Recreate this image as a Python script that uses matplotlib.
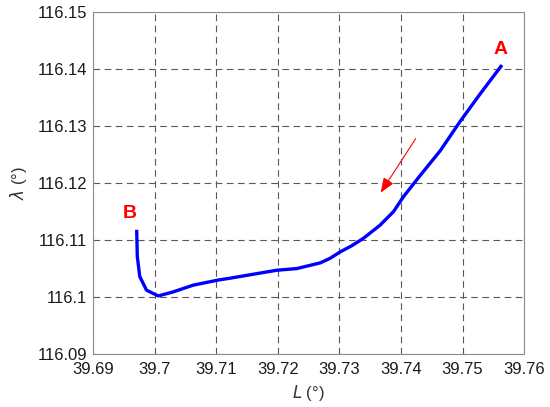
import matplotlib.pyplot as plt

# Trajectory (L in degrees, lambda in degrees)
L = [39.6971, 39.6972, 39.6976, 39.6987, 39.7006, 39.7030, 39.7063, 39.7104,
     39.7122, 39.7160, 39.7198, 39.7231, 39.7269, 39.7285, 39.7301, 39.7320,
     39.7339, 39.7366, 39.7388, 39.7404, 39.7431, 39.7464, 39.7496, 39.7529,
     39.7564]
lam = [116.1118, 116.1071, 116.1036, 116.1012, 116.1002, 116.1009, 116.1021, 116.1030,
       116.1033, 116.1040, 116.1047, 116.1050, 116.1060, 116.1068, 116.1079, 116.1090,
       116.1103, 116.1126, 116.1150, 116.1176, 116.1213, 116.1257, 116.1308, 116.1357,
       116.1407]

x_ticks = [39.69, 39.70, 39.71, 39.72, 39.73, 39.74, 39.75, 39.76]
x_labels = ["39.69", "39.7", "39.71", "39.72", "39.73", "39.74", "39.75", "39.76"]
y_ticks = [116.09, 116.10, 116.11, 116.12, 116.13, 116.14, 116.15]
y_labels = ["116.09", "116.1", "116.11", "116.12", "116.13", "116.14", "116.15"]

plt.rcParams['font.family'] = ['Liberation Sans', 'DejaVu Sans']

fig = plt.figure(figsize=(5.5, 4.07), dpi=100)
ax = fig.add_axes([0.169, 0.130, 0.784, 0.8405])

ax.plot(L, lam, color="#0000ff", lw=2.4, solid_capstyle="butt",
        solid_joinstyle="round")

# direction arrow
ax.annotate("", xy=(39.7367, 116.1183), xytext=(39.7424, 116.1278),
            arrowprops=dict(arrowstyle="-|>,head_length=0.9,head_width=0.35",
                            color="red", lw=0.8, shrinkA=0, shrinkB=0))

ax.text(39.7561, 116.1435, "A", color="red", fontsize=14, fontweight="bold",
        ha="center", va="center")
ax.text(39.6960, 116.1146, "B", color="red", fontsize=14, fontweight="bold",
        ha="center", va="center")

ax.set_xlim(39.69, 39.76)
ax.set_ylim(116.09, 116.15)
ax.set_xticks(x_ticks)
ax.set_xticklabels(x_labels)
ax.set_yticks(y_ticks)
ax.set_yticklabels(y_labels)
ax.tick_params(direction="in", length=0, labelsize=12, colors="0.1")
ax.tick_params(axis="x", pad=6)
ax.tick_params(axis="y", pad=4)

ax.grid(True, color="0.35", lw=0.8, linestyle=(0, (6, 4)))
for s in ax.spines.values():
    s.set_color("0.55")
    s.set_linewidth(0.8)

ax.set_xlabel(r"$L$ (°)", fontsize=12, color="0.2", labelpad=4)
ax.set_ylabel(r"$\lambda$ (°)", fontsize=12, color="0.2", labelpad=6)

plt.savefig("out.png", dpi=100)
